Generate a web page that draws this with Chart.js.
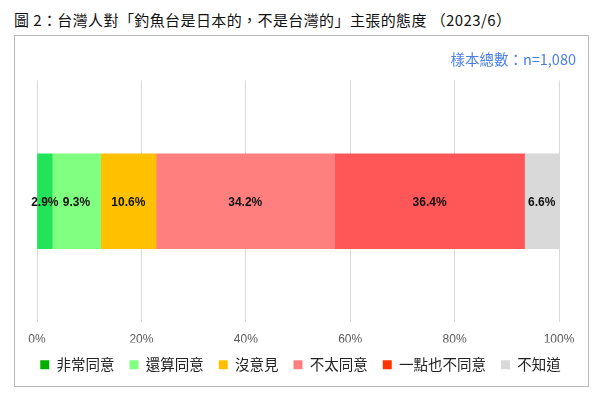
<!DOCTYPE html>
<html>
<head>
<meta charset="utf-8">
<script src="https://cdn.jsdelivr.net/npm/chart.js@4"></script>
<style>
  body { margin: 0; background: #fff; width: 600px; height: 402px; position: relative; overflow: hidden; }
  #heading {
    position: absolute; left: 14px; top: 9px;
    font: 15px "Noto Sans CJK TC", sans-serif; letter-spacing: 0.4px; color: #111;
    white-space: nowrap;
  }
  #box {
    position: absolute; left: 14px; top: 35px; width: 573px; height: 350px;
    border: 1px solid #b8b8b8;
  }
</style>
</head>
<body>
<div id="heading">圖 2：台灣人對「釣魚台是日本的，不是台灣的」主張的態度 （2023/6）</div>
<div id="box"><canvas id="c" width="573" height="350"></canvas></div>
<script>
// --- data ---
const categories = ['台灣人'];
const seriesNames = ['非常同意', '還算同意', '沒意見', '不太同意', '一點也不同意', '不知道'];
const seriesValues = [2.9, 9.3, 10.6, 34.2, 36.4, 6.6];
const barColors = ['#22e45a', '#80ff80', '#ffc000', '#ff7f7f', '#ff5757', '#d9d9d9'];
const legendColors = ['#00b000', '#80ff80', '#ffc000', '#ff7f7f', '#ff3300', '#d9d9d9'];
const sampleNote = '樣本總數：n=1,080';

const datasets = seriesNames.map((name, i) => ({
    label: name,
    data: [seriesValues[i]],
    backgroundColor: barColors[i],
    borderWidth: 0,
    barThickness: 95
}));

// value labels in the middle of each segment
const segmentLabels = {
    id: 'segmentLabels',
    afterDatasetsDraw: (chart) => {
        const { ctx } = chart;
        ctx.save();
        ctx.font = 'bold 12px "Liberation Sans", Arial, sans-serif';
        ctx.fillStyle = '#111';
        ctx.textAlign = 'center';
        ctx.textBaseline = 'middle';
        chart.data.datasets.forEach((ds, i) => {
            chart.getDatasetMeta(i).data.forEach((bar, j) => {
                const mid = (bar.x + bar.base) / 2;
                ctx.fillText(ds.data[j].toFixed(1) + '%', mid, bar.y + 1);
            });
        });
        ctx.restore();
    }
};

new Chart(document.getElementById('c'), {
    type: 'bar',
    data: { labels: categories, datasets },
    options: {
        indexAxis: 'y',
        responsive: false,
        animation: false,
        layout: { padding: { left: 10, right: 12, top: 0, bottom: 4 } },
        scales: {
            x: {
                stacked: true,
                min: 0, max: 100,
                ticks: {
                    stepSize: 20,
                    callback: (v) => v + '%',
                    color: '#595959',
                    font: { size: 12, family: '"Liberation Sans", Arial, sans-serif' },
                    padding: 10
                },
                grid: { color: '#d9d9d9', drawTicks: false },
                border: { display: false },
                afterFit: (s) => { s.height -= 14; }
            },
            y: {
                stacked: true,
                ticks: { display: false },
                grid: { display: false },
                border: { display: false },
                afterFit: (s) => { s.width = 12; }
            },
            yRight: {
                type: 'linear',
                position: 'right',
                ticks: { display: false },
                grid: { display: false },
                border: { display: false },
                afterFit: (s) => { s.width = 17; }
            }
        },
        plugins: {
            title: {
                display: true,
                text: sampleNote,
                align: 'end',
                color: '#4a7fe8',
                font: { size: 14.5, weight: 'normal', family: '"Noto Sans CJK TC", sans-serif' },
                padding: { top: 15, bottom: 12 }
            },
            legend: {
                position: 'bottom',
                labels: {
                    boxWidth: 9,
                    boxHeight: 9,
                    padding: 15,
                    color: '#222',
                    font: { size: 14.5, family: '"Noto Sans CJK TC", sans-serif' },
                    generateLabels: (chart) => seriesNames.map((name, i) => ({
                        text: name,
                        fillStyle: legendColors[i],
                        strokeStyle: legendColors[i],
                        lineWidth: 0,
                        fontColor: '#222',
                        datasetIndex: i
                    }))
                }
            },
            tooltip: { enabled: false }
        }
    },
    plugins: [segmentLabels]
});
</script>
</body>
</html>
